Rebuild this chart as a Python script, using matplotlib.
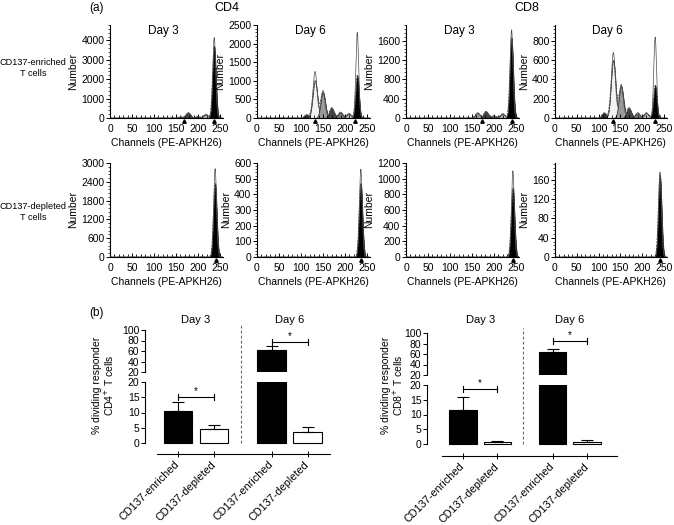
import numpy as np
import matplotlib
matplotlib.use('Agg')
import matplotlib.pyplot as plt
from matplotlib.ticker import MultipleLocator, AutoMinorLocator
import matplotlib.transforms as mtransforms

plt.rcParams['font.family'] = ['Liberation Sans', 'DejaVu Sans']

# ---- (a) histogram data: peak channel, fitted height, raw outline height per generation
cd4_d3_enr_pos = [237, 218, 199, 178, 160]
cd4_d3_enr_fit = [3700, 170, 70, 260, 60]
cd4_d3_enr_raw = [4150, 200, 80, 280, 60]

cd4_d6_enr_pos = [228, 209, 190, 170, 150, 132, 113]
cd4_d6_enr_fit = [1150, 110, 150, 260, 700, 1000, 80]
cd4_d6_enr_raw = [2300, 130, 160, 280, 740, 1250, 90]

cd8_d3_enr_pos = [240, 220, 200, 182, 163]
cd8_d3_enr_fit = [1660, 80, 40, 130, 100]
cd8_d3_enr_raw = [1830, 90, 50, 140, 110]

cd8_d6_enr_pos = [230, 210, 190, 170, 152, 134, 113]
cd8_d6_enr_fit = [340, 50, 50, 100, 330, 600, 50]
cd8_d6_enr_raw = [840, 55, 55, 110, 350, 680, 55]

cd4_d3_dep_pos = [239]
cd4_d3_dep_fit = [2350]
cd4_d3_dep_raw = [2820]

cd4_d6_dep_pos = [236]
cd4_d6_dep_fit = [470]
cd4_d6_dep_raw = [560]

cd8_d3_dep_pos = [243]
cd8_d3_dep_fit = [880]
cd8_d3_dep_raw = [1100]

cd8_d6_dep_pos = [241]
cd8_d6_dep_fit = [170]
cd8_d6_dep_raw = [176]

gen_colors = ['black', '#bdbdbd', '#7a7a7a', '#454545', '#9a9a9a', '#f2f2f2', '#333333']

# ---- (b) bar data
groups = ['CD137-enriched', 'CD137-depleted', 'CD137-enriched', 'CD137-depleted']
cd4_pct = [10.5, 4.6, 62, 3.7]
cd4_err = [2.9, 1.2, 7.5, 1.4]
cd8_pct = [11.5, 0.8, 64, 0.8]
cd8_err = [4.5, 0.2, 5.7, 0.5]
cd4_sig = [15.1, 77]
cd8_sig = [18.5, 85]

W, H = 674, 525
fig = plt.figure(figsize=(W / 100, H / 100), dpi=100)


def px(x0, y0, x1, y1):
    # pixel box (left, top, right, bottom) -> figure fraction
    return [x0 / W, 1 - y1 / H, (x1 - x0) / W, (y1 - y0) / H]


def hist_panel(box, pos, fit, raw, ymax, ystep, marks, title=None):
    ax = fig.add_axes(px(*box))
    ch = np.linspace(0, 256, 1537)
    sig = [3.8] + [5.3] * (len(pos) - 1)
    comps = [h * np.exp(-0.5 * ((ch - p) / s) ** 2) for p, h, s in zip(pos, fit, sig)]
    raws = [h * np.exp(-0.5 * ((ch - p) / (s * 0.85)) ** 2) for p, h, s in zip(pos, raw, sig)]
    for i in range(len(comps) - 1, -1, -1):
        ax.fill_between(ch, 0, comps[i], color=gen_colors[i], edgecolor='black', lw=0.4)
    ax.plot(ch, np.sum(comps, axis=0), color='0.25', lw=0.6, dashes=(2.5, 1.5))
    ax.plot(ch, np.sum(raws, axis=0), color='0.3', lw=0.5)
    ax.set_xlim(0, 256)
    ax.set_ylim(0, ymax)
    for s in ['top', 'right']:
        ax.spines[s].set_visible(False)
    for s in ['left', 'bottom']:
        ax.spines[s].set_linewidth(0.8)
    ax.set_xticks([0, 50, 100, 150, 200, 250])
    ax.xaxis.set_minor_locator(MultipleLocator(10))
    ax.yaxis.set_major_locator(MultipleLocator(ystep))
    ax.yaxis.set_minor_locator(AutoMinorLocator(5))
    ax.tick_params(axis='x', which='major', direction='in', length=3, width=0.7,
                   labelsize=7.5, pad=4)
    ax.tick_params(axis='x', which='minor', direction='in', length=2, width=0.6)
    ax.tick_params(axis='y', which='major', direction='out', length=3, width=0.7,
                   labelsize=7.5, pad=1)
    ax.tick_params(axis='y', which='minor', direction='out', length=1.5, width=0.5)
    ax.set_xlabel('Channels (PE-APKH26)', fontsize=7.5, labelpad=3)
    ax.set_ylabel('Number', fontsize=7.5, labelpad=2)
    trans = mtransforms.blended_transform_factory(ax.transData, ax.transAxes)
    ax.plot(marks, [-0.03] * len(marks), '^', color='black', ms=2.5,
            transform=trans, clip_on=False)
    if title:
        ax.text(0.47, 1.0, title, transform=ax.transAxes, ha='center', va='top',
                fontsize=8.5)
    return ax


# top row (CD137-enriched)
hist_panel((110, 25, 222.6, 118), cd4_d3_enr_pos, cd4_d3_enr_fit, cd4_d3_enr_raw,
           4800, 1000, [168, 236], 'Day 3')
hist_panel((257, 25, 369.6, 118), cd4_d6_enr_pos, cd4_d6_enr_fit, cd4_d6_enr_raw,
           2500, 500, [132, 222], 'Day 6')
hist_panel((406, 25, 518.6, 118), cd8_d3_enr_pos, cd8_d3_enr_fit, cd8_d3_enr_raw,
           1930, 400, [172, 240], 'Day 3')
hist_panel((555, 25, 666.5, 118), cd8_d6_enr_pos, cd8_d6_enr_fit, cd8_d6_enr_raw,
           966, 200, [134, 230], 'Day 6')

# bottom row (CD137-depleted)
hist_panel((110, 163, 222.6, 257), cd4_d3_dep_pos, cd4_d3_dep_fit, cd4_d3_dep_raw,
           3000, 600, [241])
hist_panel((257, 163, 369.6, 257), cd4_d6_dep_pos, cd4_d6_dep_fit, cd4_d6_dep_raw,
           600, 100, [236])
hist_panel((406, 163, 518.6, 257), cd8_d3_dep_pos, cd8_d3_dep_fit, cd8_d3_dep_raw,
           1200, 200, [243])
hist_panel((555, 163, 666.5, 257), cd8_d6_dep_pos, cd8_d6_dep_fit, cd8_d6_dep_raw,
           195, 40, [241])

fig.text(97 / W, 1 - 8 / H, '(a)', ha='center', va='center', fontsize=8.5)
fig.text(227 / W, 1 - 8 / H, 'CD4', ha='center', va='center', fontsize=9)
fig.text(527 / W, 1 - 8 / H, 'CD8', ha='center', va='center', fontsize=9)
fig.text(33 / W, 1 - 68 / H, 'CD137-enriched\nT cells', ha='center', va='center',
         fontsize=6.6, linespacing=1.15)
fig.text(33 / W, 1 - 212 / H, 'CD137-depleted\nT cells', ha='center', va='center',
         fontsize=6.6, linespacing=1.15)
fig.text(97 / W, 1 - 313 / H, '(b)', ha='center', va='center', fontsize=8.5)


def bar_panel(x_spine, x_base0, x_right, c0, unit, y100, y20u, y20l, y0, ybase,
              vals, errs, sig, ylabel, ylab_x):
    xpos = np.array([0, 1, 2.6, 3.6])
    xl = ((x_spine - c0) / unit, (x_right - c0) / unit)
    scale = (y0 - y20l) / 20.0
    lo = fig.add_axes(px(x_spine, y20l, x_right, ybase))
    up = fig.add_axes(px(x_spine, y100, x_right, y20u))
    lo.set_ylim(-(ybase - y0) / scale, 20)
    up.set_ylim(20, 100)
    colors = ['black', 'white', 'black', 'white']
    for ax in (lo, up):
        ax.patch.set_visible(False)
        ax.set_xlim(*xl)
        ax.bar(xpos, vals, width=0.8, color=colors, edgecolor='black', lw=0.8)
        ax.errorbar(xpos, vals, yerr=[np.zeros(4), errs], fmt='none', ecolor='black',
                    elinewidth=0.8, capsize=4, capthick=0.8)
        ax.spines['top'].set_visible(False)
        ax.spines['right'].set_visible(False)
        ax.spines['left'].set_linewidth(0.8)
        ax.tick_params(axis='y', direction='out', length=3, width=0.7, labelsize=7.5,
                       pad=1)
    lo.set_yticks([0, 5, 10, 15, 20])
    up.set_yticks([20, 40, 60, 80, 100])
    lo.spines['left'].set_bounds(0, 20)
    lo.spines['bottom'].set_bounds((x_base0 - c0) / unit, xl[1])
    lo.spines['bottom'].set_linewidth(0.8)
    up.spines['bottom'].set_visible(False)
    up.set_xticks([])
    lo.set_xticks(xpos)
    lo.set_xticklabels(groups, rotation=45, ha='right', va='center',
                       rotation_mode='anchor', fontsize=7.8)
    lo.tick_params(axis='x', direction='inout', length=5, width=0.7, pad=4)
    # significance brackets
    for (a, b), yv, ax in zip([(0, 1), (2.6, 3.6)], sig, [lo, up]):
        ax.plot([a, b], [yv, yv], color='black', lw=0.8, clip_on=False)
        span = 3 / scale if ax is lo else 3 / 0.525
        for xx in (a, b):
            ax.plot([xx, xx], [yv - span, yv + span], color='black', lw=0.8, clip_on=False)
        ax.text((a + b) / 2, yv + span * 0.4, '*', ha='center', va='bottom', fontsize=7)
    # dashed separator between days
    trans = mtransforms.blended_transform_factory(lo.transData, lo.transAxes)
    h = ybase - y20l
    lo.plot([1.75, 1.75], [(ybase - y0) / h, (ybase - (y100 - 5)) / h], color='0.4',
            lw=0.8, dashes=(2.5, 2), transform=trans, clip_on=False)
    fig.text((c0 + 0.5 * unit) / W, 1 - 320 / H, 'Day 3', ha='center', va='center',
             fontsize=8)
    fig.text((c0 + 3.1 * unit) / W, 1 - 320 / H, 'Day 6', ha='center', va='center',
             fontsize=8)
    fig.text(ylab_x / W, 1 - 385 / H, ylabel, rotation=90, ha='center', va='center',
             fontsize=7.5, linespacing=1.1)


bar_panel(145, 157, 330, 178, 36, 330, 372, 382, 443, 454, cd4_pct, cd4_err, cd4_sig,
          '% dividing responder\nCD4$^{+}$ T cells', 104)
bar_panel(427, 442, 617, 463, 34.5, 333, 375, 385, 444, 456, cd8_pct, cd8_err, cd8_sig,
          '% dividing responder\nCD8$^{+}$ T cells', 393)

fig.savefig('out.png', dpi=100)
